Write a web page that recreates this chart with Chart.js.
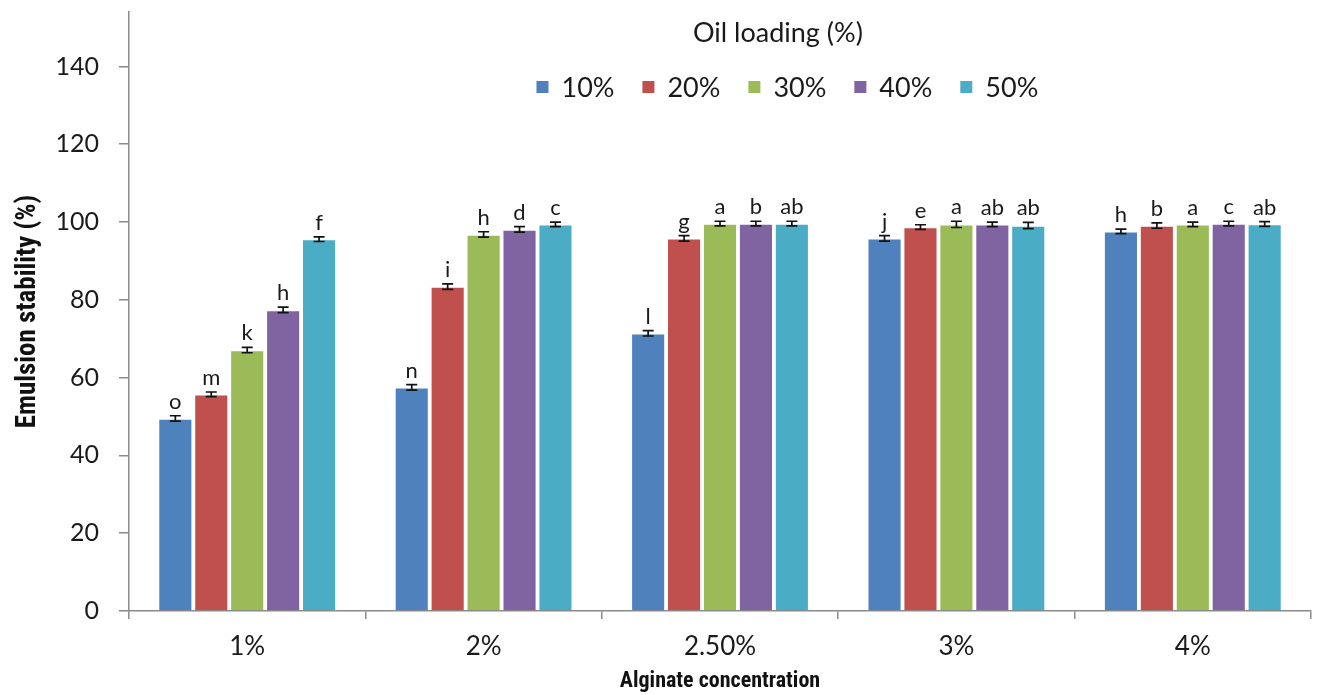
<!DOCTYPE html>
<html>
<head>
<meta charset="utf-8">
<script src="https://cdn.jsdelivr.net/npm/chart.js@4/dist/chart.umd.min.js"></script>
<style>
  html, body { margin: 0; padding: 0; background: #fff; }
  #wrap { width: 1319px; height: 695px; position: relative; }
</style>
</head>
<body>
<div id="wrap"><canvas id="c"></canvas></div>
<script>
// Alginate concentration groups and oil loading series
const categories = ['1%', '2%', '2.50%', '3%', '4%'];
const seriesNames = ['10%', '20%', '30%', '40%', '50%'];

// Emulsion stability (%) per oil loading
const oil10 = [49.5, 57.5, 71.4, 95.8, 97.6];
const oil20 = [55.7, 83.4, 95.8, 98.7, 99.1];
const oil30 = [67.1, 96.8, 99.6, 99.4, 99.4];
const oil40 = [77.4, 98.1, 99.6, 99.4, 99.6];
const oil50 = [95.6, 99.4, 99.6, 99.1, 99.5];

// Standard deviations
const err10 = [0.7, 0.7, 0.7, 0.7, 0.6];
const err20 = [0.6, 0.7, 0.7, 0.6, 0.7];
const err30 = [0.7, 0.7, 0.6, 0.8, 0.6];
const err40 = [0.7, 0.7, 0.6, 0.6, 0.6];
const err50 = [0.6, 0.6, 0.6, 0.8, 0.6];

// Significance letters
const sig10 = ['o', 'n', 'l', 'j', 'h'];
const sig20 = ['m', 'i', 'g', 'e', 'b'];
const sig30 = ['k', 'h', 'a', 'a', 'a'];
const sig40 = ['h', 'd', 'b', 'ab', 'c'];
const sig50 = ['f', 'c', 'ab', 'ab', 'ab'];

// Y-axis tick values
const yTicks = [0, 20, 40, 60, 80, 100, 120, 140];

const colors = ['#4F81BD', '#C0504D', '#9BBB59', '#8064A2', '#4BACC6'];
const values = [oil10, oil20, oil30, oil40, oil50];
const errors = [err10, err20, err30, err40, err50];
const letters = [sig10, sig20, sig30, sig40, sig50];

const TICK_FONT = "Lato, 'Open Sans', sans-serif";
const TITLE_FONT = "'Liberation Sans Narrow', 'Roboto Condensed', 'DejaVu Sans Condensed', sans-serif";
const AXIS_GREY = '#8a8a8a';

// Error bars and significance letters above each bar
const barAnnotations = {
  id: 'barAnnotations',
  afterDatasetsDraw(chart) {
    const ctx = chart.ctx;
    const y = chart.scales.y;
    ctx.save();
    chart.data.datasets.forEach((ds, di) => {
      const meta = chart.getDatasetMeta(di);
      meta.data.forEach((bar, i) => {
        const v = ds.data[i];
        const e = ds.errors[i];
        const yTop = y.getPixelForValue(v + e);
        const yBot = y.getPixelForValue(v - e);
        const cap = 5.5;
        ctx.strokeStyle = '#111';
        ctx.lineWidth = 1.7;
        ctx.beginPath();
        ctx.moveTo(bar.x, yTop); ctx.lineTo(bar.x, yBot);
        ctx.moveTo(bar.x - cap, yTop); ctx.lineTo(bar.x + cap, yTop);
        ctx.moveTo(bar.x - cap, yBot); ctx.lineTo(bar.x + cap, yBot);
        ctx.stroke();
        ctx.fillStyle = '#1a1a1a';
        ctx.font = '22px ' + TICK_FONT;
        ctx.textAlign = 'center';
        ctx.textBaseline = 'alphabetic';
        ctx.fillText(ds.letters[i], bar.x, yTop - 7);
      });
    });
    ctx.restore();
  }
};

// Legend with title, placed inside the plot area
const oilLegend = {
  id: 'oilLegend',
  afterDraw(chart) {
    const ctx = chart.ctx;
    const area = chart.chartArea;
    ctx.save();
    ctx.fillStyle = '#1a1a1a';
    ctx.font = '27px ' + TICK_FONT;
    ctx.textAlign = 'center';
    ctx.textBaseline = 'middle';
    const cx = area.left + (area.right - area.left) * 0.549;
    ctx.fillText('Oil loading (%)', cx, 33);

    const box = 12, gap = 13, spacing = 28;
    const widths = chart.data.datasets.map(ds => box + gap + ctx.measureText(ds.label).width);
    const total = widths.reduce((a, b) => a + b, 0) + spacing * (widths.length - 1);
    let x = area.left + (area.right - area.left) * 0.557 - total / 2;
    const yMid = 87;
    chart.data.datasets.forEach((ds, i) => {
      ctx.fillStyle = ds.backgroundColor;
      ctx.fillRect(x, yMid - box / 2, box, box);
      ctx.fillStyle = '#1a1a1a';
      ctx.textAlign = 'left';
      ctx.fillText(ds.label, x + box + gap, yMid + 1);
      x += widths[i] + spacing;
    });
    ctx.restore();
  }
};

new Chart(document.getElementById('c'), {
  type: 'bar',
  data: {
    labels: categories,
    datasets: seriesNames.map((name, i) => ({
      label: name,
      data: values[i],
      errors: errors[i],
      letters: letters[i],
      backgroundColor: colors[i],
      borderColor: 'rgba(255,255,255,0.8)',
      borderWidth: 1.2,
      categoryPercentage: 0.76,
      barPercentage: 0.96
    }))
  },
  options: {
    responsive: true,
    maintainAspectRatio: false,
    animation: false,
    layout: { padding: { top: 12, right: 8, left: 0, bottom: 0 } },
    plugins: {
      legend: { display: false },
      tooltip: { enabled: false }
    },
    scales: {
      x: {
        grid: {
          offset: true,
          drawOnChartArea: false,
          drawTicks: true,
          tickLength: 8,
          color: AXIS_GREY,
          lineWidth: 1.5
        },
        border: { display: true, color: AXIS_GREY, width: 1.5 },
        ticks: {
          color: '#1a1a1a',
          font: { family: TICK_FONT, size: 26 },
          padding: 12,
          maxRotation: 0
        },
        title: {
          display: true,
          text: 'Alginate concentration',
          color: '#111',
          font: { family: TITLE_FONT, size: 22, weight: 'bold' },
          padding: { top: 0, bottom: 0 }
        },
        afterFit(scale) {
          scale.height = 84;
          scale.paddingLeft = 0;
          scale.paddingRight = 0;
        }
      },
      y: {
        min: 0,
        max: 154,
        afterBuildTicks(scale) {
          scale.ticks = yTicks.map(v => ({ value: v }));
        },
        grid: {
          drawOnChartArea: false,
          drawTicks: true,
          tickLength: 10,
          color: AXIS_GREY,
          lineWidth: 1.5
        },
        border: { display: true, color: AXIS_GREY, width: 1.5 },
        ticks: {
          color: '#1a1a1a',
          font: { family: TICK_FONT, size: 25 },
          padding: 20
        },
        title: {
          display: true,
          text: 'Emulsion stability (%)',
          color: '#111',
          font: { family: TITLE_FONT, size: 27, weight: 'bold' },
          padding: { top: 12, bottom: 0 }
        },
        afterFit(scale) {
          scale.width = 129;
          scale.paddingTop = 0;
          scale.paddingBottom = 0;
        }
      }
    }
  },
  plugins: [barAnnotations, oilLegend]
});
</script>
</body>
</html>
